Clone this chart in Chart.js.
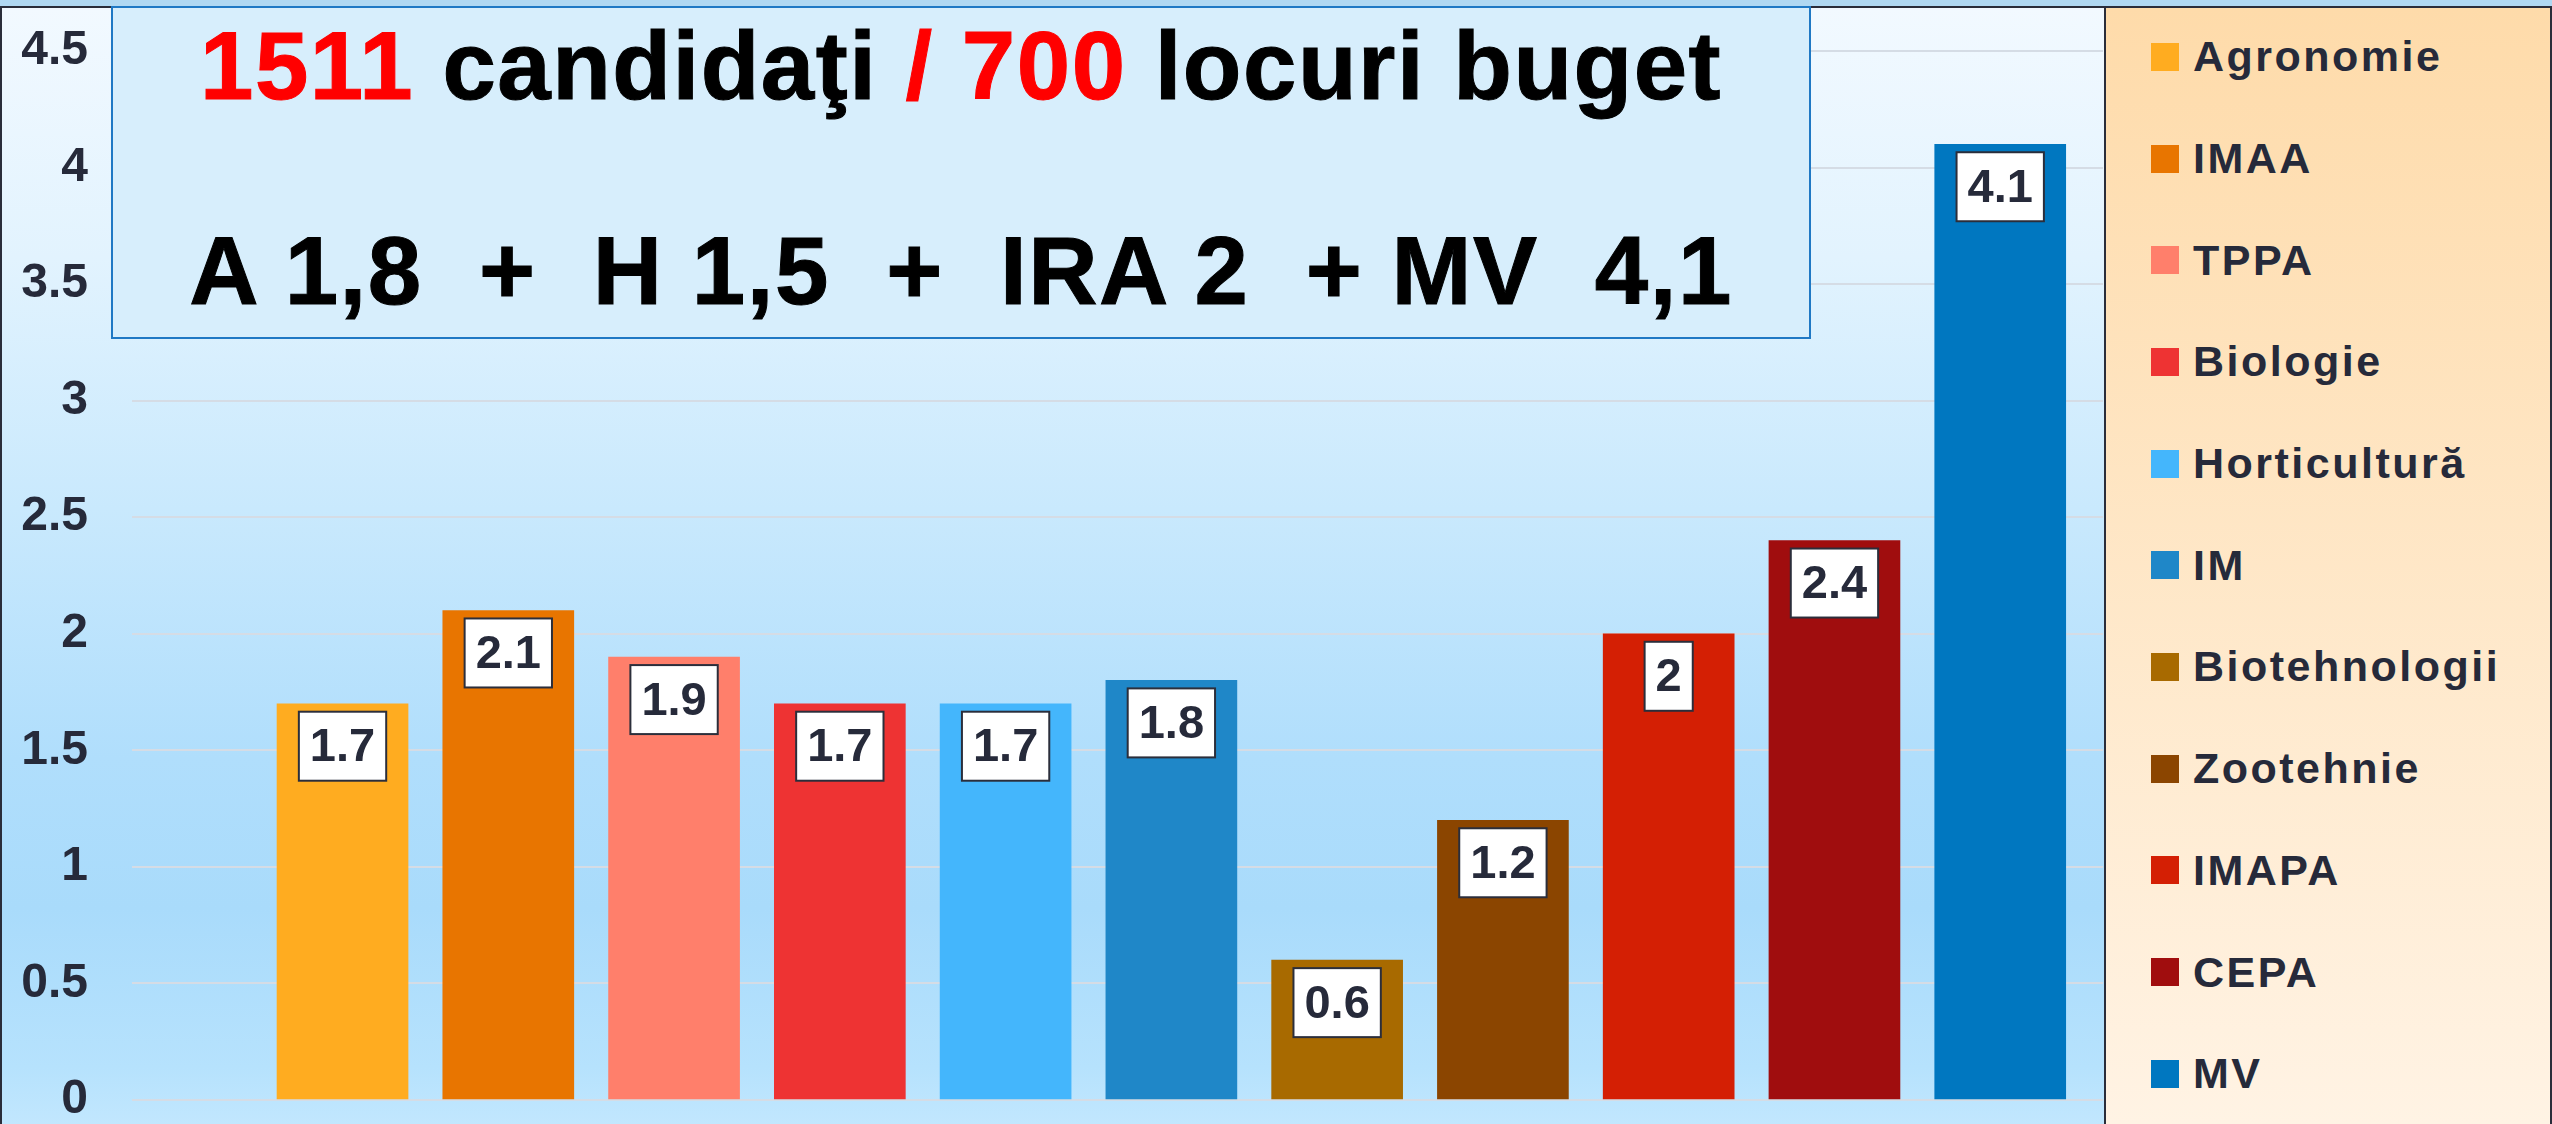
<!DOCTYPE html>
<html>
<head>
<meta charset="utf-8">
<script src="https://cdn.jsdelivr.net/npm/chart.js@4.4.1/dist/chart.umd.min.js"></script>
<style>
  * { box-sizing: border-box; }
  html, body { margin: 0; padding: 0; }
  body {
    width: 2552px; height: 1124px; overflow: hidden; position: relative;
    background: #b0d8f2;
    font-family: 'Liberation Sans', Arial, sans-serif;
  }
  #panel {
    position: absolute; left: 0; top: 6px; width: 2106px; height: 1118px;
    border-top: 2px solid #2a2d3a; border-left: 2px solid #2a2d3a;
    background: linear-gradient(to bottom, #f2f9ff 0px, #e2f3fe 250px, #c9e9fd 500px,
      #b0defc 750px, #a9dbfb 900px, #b6e2fd 1060px, #c2e7fe 1118px);
  }
  #chart { position: absolute; left: 0; top: 0; }
  #title {
    position: absolute; left: 111px; top: 6px; width: 1700px; height: 333px;
    border: 2px solid #1f78c4; background: #d7eefc;
    color: #000; font-weight: bold; font-size: 96px; letter-spacing: 1.5px;
    -webkit-text-stroke: 1px currentColor;
  }
  #title div { position: absolute; left: 0; right: 0; text-align: center; line-height: 1; white-space: pre; }
  #title .red { color: #ff0000; }
  #side {
    position: absolute; left: 2104px; top: 6px; width: 448px; height: 1118px;
    border-top: 2px solid #2a2d3a; border-left: 2px solid #2a2d3a; border-right: 2px solid #2a2d3a;
    background: linear-gradient(to bottom, #fedbaa, #fff3e4);
  }
  #legend { list-style: none; margin: 0; padding: 0 0 0 45px; position: absolute; top: -2px; left: 0; }
  #legend li {
    height: 101.7px; display: flex; align-items: center;
    font-size: 43px; font-weight: bold; letter-spacing: 2.5px; color: #262a3a;
  }
  #legend span.box { width: 28px; height: 28px; margin-right: 14px; flex: none; }
</style>
</head>
<body>
<div id="panel"></div>
<div id="side"><ul id="legend"></ul></div>
<canvas id="chart" width="2105" height="1124"></canvas>
<div id="title">
  <div style="top:10px"><span class="red">1511</span> candidaţi <span class="red">/ 700</span> locuri buget</div>
  <div style="top:215px">A 1,8  +  H 1,5  +  IRA 2  + MV  4,1</div>
</div>
<script>
const categories = ['Agronomie', 'IMAA', 'TPPA', 'Biologie', 'Horticultură', 'IM',
  'Biotehnologii', 'Zootehnie', 'IMAPA', 'CEPA', 'MV'];
const values = [1.7, 2.1, 1.9, 1.7, 1.7, 1.8, 0.6, 1.2, 2, 2.4, 4.1];
const colors = ['#ffac20', '#e87500', '#ff7f6b', '#ee3333', '#44b6fc', '#1f87c8',
  '#a86a00', '#8b4500', '#d41f04', '#a00d0e', '#0077c0'];

const dark = '#262a3a';

// legend as html list, built from the chart data
const htmlLegend = {
  id: 'htmlLegend',
  afterUpdate(chart) {
    const ul = document.getElementById('legend');
    ul.innerHTML = '';
    const ds = chart.data.datasets[0];
    chart.data.labels.forEach(function(name, i) {
      const li = document.createElement('li');
      const box = document.createElement('span');
      box.className = 'box';
      box.style.background = ds.backgroundColor[i];
      li.appendChild(box);
      li.appendChild(document.createTextNode(name));
      ul.appendChild(li);
    });
  }
};

// white boxed value labels inside the top of each bar
const barValues = {
  id: 'barValues',
  afterDatasetsDraw(chart) {
    const ctx = chart.ctx;
    const meta = chart.getDatasetMeta(0);
    ctx.save();
    ctx.font = 'bold 47px "Liberation Sans", Arial, sans-serif';
    ctx.textAlign = 'center';
    ctx.textBaseline = 'middle';
    meta.data.forEach(function(bar, i) {
      const txt = String(values[i]);
      const w = ctx.measureText(txt).width + 22;
      const h = 69;
      const x = bar.x - w / 2;
      const y = bar.y + 8;
      ctx.fillStyle = '#fff';
      ctx.fillRect(x, y, w, h);
      ctx.lineWidth = 2;
      ctx.strokeStyle = '#2b2e3b';
      ctx.strokeRect(x, y, w, h);
      ctx.fillStyle = dark;
      ctx.fillText(txt, bar.x, y + h / 2 + 2);
    });
    ctx.restore();
  }
};

new Chart(document.getElementById('chart'), {
  type: 'bar',
  data: {
    labels: categories,
    datasets: [{
      data: values.map(function(v, i) { return {x: i + 1, y: v}; }),
      backgroundColor: colors,
      borderWidth: 0,
      barThickness: 131
    }]
  },
  options: {
    responsive: false,
    animation: false,
    layout: { padding: { left: 0, right: 2, top: 51, bottom: 24 } },
    scales: {
      x: {
        type: 'linear',
        display: false,
        offset: false,
        bounds: 'data',
        min: -0.27,
        max: 11.62,
        ticks: { stepSize: 1 }
      },
      y: {
        min: 0,
        max: 4.5,
        border: { display: false },
        // invisible tick marks keep the labels away from the plot
        grid: { color: '#d5dce5', lineWidth: 2, drawTicks: true, tickLength: 44, tickColor: 'rgba(0,0,0,0)' },
        ticks: {
          stepSize: 0.5,
          padding: 0,
          color: dark,
          font: { family: '"Liberation Sans", Arial, sans-serif', size: 48, weight: 'bold', lineHeight: 1 },
          callback: function(v) { return String(v); }
        },
        afterFit: function(scale) { scale.width = 132; }
      }
    },
    plugins: {
      legend: { display: false },
      tooltip: { enabled: false }
    }
  },
  plugins: [htmlLegend, barValues]
});
</script>
</body>
</html>
